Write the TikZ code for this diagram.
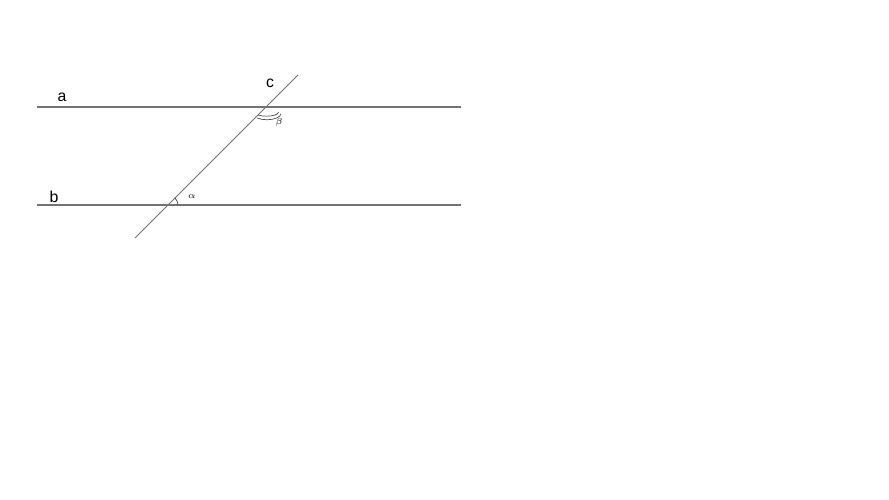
\documentclass[tikz,border=0pt]{standalone}
\usepackage{fontspec}
\setmainfont{Liberation Sans}
\tikzstyle{every node}=[inner sep=1pt]
\tikzstyle{line}=[draw=black!55,line width=0.6pt]
\tikzstyle{anglemark}=[draw=black!70,line width=0.4pt]

\begin{document}
\begin{tikzpicture}[x=0.02cm,y=-0.02cm]
\useasboundingbox (0,0) rectangle (889,500);
\coordinate (a1) at (37,107);
\coordinate (a2) at (461,107);
\coordinate (b1) at (37,205);
\coordinate (b2) at (461,205);
\coordinate (c1) at (135,238);
\coordinate (c2) at (298,75);
\coordinate (A) at (266,107);
\coordinate (B) at (168,205);
\draw[line] (a1)--(a2);
\draw[line] (b1)--(b2);
\draw[line] (c1)--(c2);
\draw[anglemark] (A) ++(-8,8) arc[start angle=135,end angle=0,x radius=12,y radius=4];
\draw[anglemark] (A) ++(-9,11) arc[start angle=135,end angle=0,x radius=14,y radius=6];
\draw[anglemark] (B) ++(7,-7) arc[start angle=-45,end angle=0,radius=10];
\node (la) at (62,97) {\fontsize{9}{10}\selectfont a};
\node (lb) at (54,197) {\fontsize{9}{10}\selectfont b};
\node (lc) at (270,83) {\fontsize{9}{10}\selectfont c};
\node[font=\rmfamily] (lal) at (192,197) {\fontsize{5}{6}\selectfont$\alpha$};
\node[font=\rmfamily] (lbe) at (279,122) {\fontsize{5}{6}\selectfont$\beta$};
\end{tikzpicture}
\end{document}
